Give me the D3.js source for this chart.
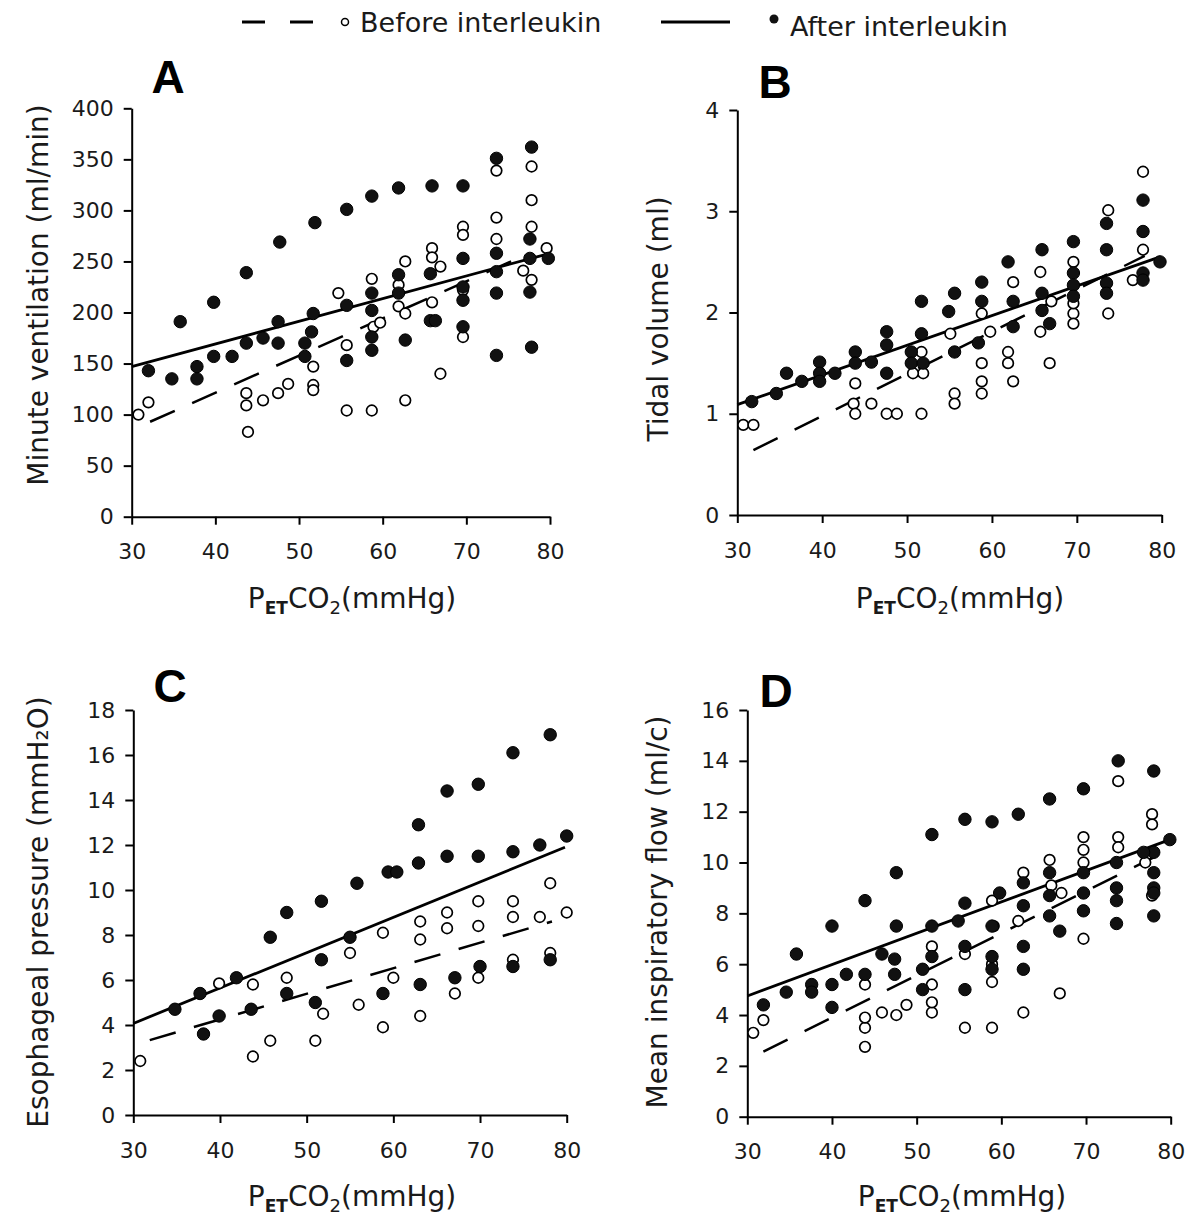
<!DOCTYPE html>
<html><head><meta charset="utf-8">
<script src="https://cdn.jsdelivr.net/npm/d3@7/dist/d3.min.js"></script>
<style>body{margin:0;background:#fff}svg{display:block}</style>
</head><body>
<svg id="c" width="1200" height="1217"></svg>
<script>
// ---------- DATA ----------
const xTicks = [30, 40, 50, 60, 70, 80];
const aTicks = [0, 50, 100, 150, 200, 250, 300, 350, 400];
const bTicks = [0, 1, 2, 3, 4];
const cTicks = [0, 2, 4, 6, 8, 10, 12, 14, 16, 18];
const dTicks = [0, 2, 4, 6, 8, 10, 12, 14, 16];

// Panel A: Minute ventilation (ml/min)
const aAfter = [[77.8,362],[73.6,351],[65.9,324],[69.6,324],[61.9,322],[58.7,314],[55.7,301],[51.9,288],[47.7,269],[43.7,239],[39.8,210],[35.8,191],
  [32,143],[34.8,135],[37.8,147],[37.8,135],[39.8,157],[42,157],[43.7,170],[45.7,175],[47.5,191],[47.5,170],[50.7,170],[50.7,157],[51.7,199],[51.5,181],
  [55.7,207],[55.7,153],[58.7,219],[58.7,202],[58.7,176],[58.7,163],[61.9,237],[61.9,219],[62.7,173],[65.7,238],[65.7,192],[66.3,192],
  [69.6,253],[69.6,225],[69.6,212],[69.6,186],[73.6,258],[73.6,240],[73.6,219],[73.6,158],[77.6,272],[77.6,253],[77.6,220],[77.8,166],[79.8,253]];
const aBefore = [[30.8,100],[32,112],[43.9,83],[43.7,121],[43.7,109],[45.7,114],[47.5,121],[48.7,130],[51.7,147],[51.7,129],[51.7,124],[54.7,219],
  [55.7,104],[55.7,168],[58.7,104],[58.7,233],[58.9,186],[59.7,190],[61.9,227],[61.9,206],[62.7,114],[62.7,250],[62.7,199],[65.9,263],[65.9,254],
  [65.9,210],[66.9,245],[66.9,140],[69.6,284],[69.6,276],[69.6,176],[69.6,222],[73.6,339],[73.6,293],[73.6,272],[77.8,343],[77.8,310],[77.8,284],
  [77.8,232],[76.8,241],[79.6,263]];
const aFitAfter = [[30,147],[80,258]];
const aFitBefore = [[32.2,93],[77,256]];

// Panel B: Tidal volume (ml)
const bAfter = [[31.7,1.12],[34.6,1.20],[35.8,1.40],[37.6,1.32],[39.7,1.51],[39.7,1.40],[39.7,1.32],[41.5,1.40],[43.9,1.61],[43.9,1.50],[45.8,1.51],
  [47.6,1.81],[47.6,1.68],[47.6,1.40],[50.5,1.61],[50.5,1.50],[51.7,2.11],[51.7,1.79],[51.9,1.50],[55.6,2.19],[54.9,2.01],[55.6,1.61],[58.8,2.30],
  [58.8,2.11],[58.4,1.70],[61.9,2.50],[62.5,2.11],[62.5,1.86],[65.9,2.62],[65.9,2.19],[65.9,2.02],[66.8,1.89],[69.6,2.70],[69.6,2.39],[69.6,2.27],
  [69.6,2.16],[73.5,2.88],[73.5,2.62],[73.5,2.29],[73.5,2.19],[77.8,3.11],[77.8,2.80],[77.8,2.39],[77.8,2.32],[79.8,2.50]];
const bBefore = [[30.7,0.89],[31.9,0.89],[43.7,1.10],[43.9,1.00],[43.9,1.30],[45.8,1.10],[47.6,1.00],[48.8,1.00],[51.7,1.00],[51.7,1.61],[51.9,1.40],
  [50.7,1.40],[55.1,1.79],[55.6,1.20],[55.6,1.10],[58.8,1.50],[58.8,1.32],[58.8,1.20],[58.8,1.99],[59.8,1.81],[61.9,1.61],[61.9,1.50],[62.5,1.32],
  [62.5,2.30],[65.7,2.40],[65.7,1.81],[66.8,1.50],[67,2.11],[69.6,2.50],[69.6,1.99],[69.6,1.89],[69.6,2.09],[73.7,3.01],[73.7,1.99],[77.8,3.39],
  [77.8,2.62],[76.6,2.32]];
const bFitAfter = [[30,1.09],[79.8,2.55]];
const bFitBefore = [[31.9,0.64],[78,2.56]];

// Panel C: Esophageal pressure (mmH2O)
const cAfter = [[78.1,16.9],[73.8,16.1],[69.8,14.7],[66.2,14.4],[62.9,12.9],[80,12.4],[76.9,12.0],[73.8,11.7],[69.8,11.5],[66.2,11.5],[62.9,11.2],
  [59.4,10.8],[60.4,10.8],[55.8,10.3],[51.7,9.5],[47.7,9.0],[45.8,7.9],[55,7.9],[41.9,6.1],[37.7,5.4],[34.8,4.7],[39.9,4.4],[38.1,3.6],[43.6,4.7],
  [47.7,5.4],[51,5.0],[51.7,6.9],[58.8,5.4],[63.1,5.8],[67.1,6.1],[70,6.6],[73.8,6.6],[78.1,6.9]];
const cBefore = [[30.8,2.4],[39.9,5.85],[43.8,5.8],[43.8,2.6],[45.8,3.3],[47.7,6.1],[51,3.3],[51.9,4.5],[55,7.2],[56,4.9],[58.8,8.1],[58.8,3.9],
  [60,6.1],[63.1,8.6],[63.1,7.8],[63.1,4.4],[66.2,9.0],[66.2,8.3],[67.1,5.4],[69.8,9.5],[69.8,8.4],[69.8,6.1],[73.8,9.5],[73.8,8.8],[73.8,6.9],
  [76.9,8.8],[78.1,10.3],[78.1,7.2],[80,9.0]];
const cFitAfter = [[30,4.07],[79.8,11.9]];
const cFitBefore = [[31.9,3.33],[78.3,8.6]];

// Panel D: Mean inspiratory flow (ml/c)
const dAfter = [[73.8,14.0],[78,13.6],[69.7,12.9],[65.7,12.5],[62,11.9],[58.9,11.6],[55.7,11.7],[51.8,11.1],[47.6,9.6],[43.9,8.5],[40,7.5],[35.8,6.4],
  [31.9,4.4],[34.6,4.9],[37.6,5.2],[37.6,4.9],[40,5.2],[40,4.3],[41.7,5.6],[43.9,5.6],[45.9,6.4],[47.4,6.2],[47.4,5.6],[47.6,7.5],[50.7,5.8],[50.7,5.0],
  [51.8,7.5],[51.8,6.3],[54.9,7.7],[55.7,8.4],[55.7,6.7],[55.7,5.0],[58.9,6.3],[58.9,5.8],[59.8,8.8],[58.9,7.5],[62.6,9.2],[62.6,6.7],[62.6,5.8],
  [62.6,8.3],[65.7,9.6],[65.7,8.7],[65.7,7.9],[66.9,7.3],[69.7,9.6],[69.7,8.8],[69.7,8.1],[73.6,10.0],[73.6,9.0],[73.6,8.5],[73.6,7.6],[78,10.4],
  [78,9.6],[78,9.0],[78,8.8],[78,7.9],[79.9,10.9],[76.8,10.4]];
const dBefore = [[30.7,3.3],[31.9,3.8],[43.9,2.75],[43.9,3.5],[43.9,3.9],[43.9,5.2],[45.9,4.1],[47.6,4.0],[48.8,4.4],[51.8,4.1],[51.8,4.5],[51.8,5.2],
  [51.8,6.7],[55.7,3.5],[55.7,6.4],[58.9,3.5],[58.9,5.3],[58.9,8.5],[58.9,6.0],[59.1,7.5],[62,7.7],[62.6,9.6],[62.6,4.1],[65.7,10.1],[65.9,9.1],
  [66.9,4.85],[67.1,8.8],[69.7,11.0],[69.7,10.5],[69.7,10.0],[69.7,7.0],[73.8,11.0],[73.8,10.6],[73.8,13.2],[77.8,11.9],[77.8,11.5],[77.8,8.7],[77,10.0]];
const dFitAfter = [[30,4.75],[79.9,10.9]];
const dFitBefore = [[31.9,2.56],[78,10.2]];

const legendLabels = ["Before interleukin", "After interleukin"];
const panelLetters = ["A", "B", "C", "D"];
const yTitles = ["Minute ventilation (ml/min)", "Tidal volume (ml)", "Esophageal pressure (mmH\u2082O)", "Mean inspiratory flow (ml/c)"];

// ---------- LAYOUT ----------
const FONT = "'DejaVu Sans', Verdana, sans-serif";
const LFONT = "'Liberation Sans', Arial, sans-serif";
const svg = d3.select("#c");

const panels = [
  {letter: panelLetters[0], title: yTitles[0], ticks: aTicks, ymax: 400, after: aAfter, before: aBefore, fa: aFitAfter, fb: aFitBefore,
   box: {x0: 131.7, x1: 550, y0: 108.3, y1: 516.7}, lx: 168, ly: 93, tx: 38, ty: 295, xtx: 352, xty: 608},
  {letter: panelLetters[1], title: yTitles[1], ticks: bTicks, ymax: 4, after: bAfter, before: bBefore, fa: bFitAfter, fb: bFitBefore,
   box: {x0: 737.3, x1: 1161.7, y0: 110, y1: 515}, lx: 775, ly: 98, tx: 658, ty: 319, xtx: 960, xty: 608},
  {letter: panelLetters[2], title: yTitles[2], ticks: cTicks, ymax: 18, after: cAfter, before: cBefore, fa: cFitAfter, fb: cFitBefore,
   box: {x0: 133.3, x1: 566.7, y0: 710, y1: 1115}, lx: 170, ly: 702, tx: 38, ty: 912, xtx: 352, xty: 1206},
  {letter: panelLetters[3], title: yTitles[3], ticks: dTicks, ymax: 16, after: dAfter, before: dBefore, fa: dFitAfter, fb: dFitBefore,
   box: {x0: 747.3, x1: 1170.7, y0: 710, y1: 1116.7}, lx: 776, ly: 707, tx: 657, ty: 912, xtx: 962, xty: 1206}
];

panels.forEach(p => {
  const x = d3.scaleLinear().domain([30, 80]).range([p.box.x0, p.box.x1]);
  const y = d3.scaleLinear().domain([0, p.ymax]).range([p.box.y1, p.box.y0]);
  const g = svg.append("g");

  // axes
  const xa = g.append("g").attr("transform", `translate(0,${p.box.y1})`)
    .call(d3.axisBottom(x).tickValues(xTicks).tickSize(8).tickSizeOuter(0).tickPadding(19).tickFormat(d3.format("d")));
  const ya = g.append("g").attr("transform", `translate(${p.box.x0},0)`)
    .call(d3.axisLeft(y).tickValues(p.ticks).tickSize(8).tickSizeOuter(0).tickPadding(10).tickFormat(d3.format("d")));
  [xa, ya].forEach(a => {
    a.select(".domain").attr("stroke", "#000").attr("stroke-width", 2);
    a.selectAll(".tick line").attr("stroke", "#000").attr("stroke-width", 2);
    a.selectAll(".tick text").attr("fill", "#1a1a1a").attr("font-family", FONT).attr("font-size", 22);
  });

  // fit lines
  const line = d3.line().x(d => x(d[0])).y(d => y(d[1]));
  g.append("path").datum(p.fb).attr("d", line).attr("fill", "none").attr("stroke", "#000")
    .attr("stroke-width", 2.5).attr("stroke-dasharray", "27,19");
  g.append("path").datum(p.fa).attr("d", line).attr("fill", "none").attr("stroke", "#000").attr("stroke-width", 2.8);

  // points
  g.append("g").selectAll("circle").data(p.before).join("circle")
    .attr("cx", d => x(d[0])).attr("cy", d => y(d[1])).attr("r", 5.3)
    .attr("fill", "#fff").attr("stroke", "#000").attr("stroke-width", 1.7);
  g.append("g").selectAll("circle").data(p.after).join("circle")
    .attr("cx", d => x(d[0])).attr("cy", d => y(d[1])).attr("r", 6.2)
    .attr("fill", "#111").attr("stroke", "#000").attr("stroke-width", 1);

  // letter
  g.append("text").attr("x", p.lx).attr("y", p.ly).attr("text-anchor", "middle")
    .attr("font-family", LFONT).attr("font-weight", "bold").attr("font-size", 46).text(p.letter);

  // y title
  g.append("text").attr("transform", `translate(${p.tx},${p.ty}) rotate(-90)`)
    .attr("text-anchor", "middle").attr("dominant-baseline", "central")
    .attr("font-family", FONT).attr("font-size", 28).attr("fill", "#1a1a1a").text(p.title);

  // x title P_ET CO_2 (mmHg)
  const t = g.append("text").attr("x", p.xtx).attr("y", p.xty).attr("text-anchor", "middle")
    .attr("font-family", FONT).attr("font-size", 28).attr("fill", "#1a1a1a");
  t.append("tspan").text("P");
  t.append("tspan").attr("font-size", 17).attr("font-weight", "bold").attr("dy", 6).text("ET");
  t.append("tspan").attr("dy", -6).text("CO");
  t.append("tspan").attr("font-size", 18).attr("dy", 6).text("2");
  t.append("tspan").attr("dy", -6).text("(mmHg)");
});

// ---------- LEGEND ----------
const lg = svg.append("g").attr("font-family", FONT).attr("font-size", 27).attr("fill", "#1a1a1a");
lg.append("line").attr("x1", 242).attr("x2", 313).attr("y1", 22).attr("y2", 22)
  .attr("stroke", "#000").attr("stroke-width", 3).attr("stroke-dasharray", "23,25");
lg.append("circle").attr("cx", 345).attr("cy", 22).attr("r", 3.5).attr("fill", "#fff").attr("stroke", "#000").attr("stroke-width", 1.5);
lg.append("text").attr("x", 360).attr("y", 32).text(legendLabels[0]);
lg.append("line").attr("x1", 661).attr("x2", 730).attr("y1", 22).attr("y2", 22).attr("stroke", "#000").attr("stroke-width", 3);
lg.append("circle").attr("cx", 774).attr("cy", 19).attr("r", 4.5).attr("fill", "#111");
lg.append("text").attr("x", 790).attr("y", 36).text(legendLabels[1]);
</script>
</body></html>
